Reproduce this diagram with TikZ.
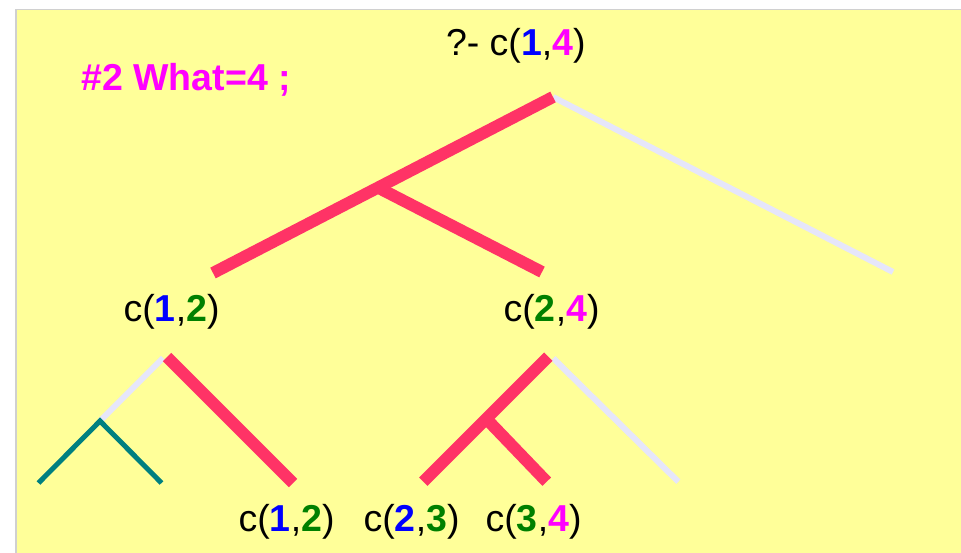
\documentclass[tikz,border=0pt]{standalone}
\usepackage{fontspec}
\setmainfont{Liberation Sans}
\definecolor{bgyellow}{HTML}{FFFF99}
\definecolor{hotred}{HTML}{FF3366}
\definecolor{lav}{HTML}{E6E6FA}
\definecolor{tealc}{HTML}{008080}
\definecolor{bluec}{HTML}{0000FF}
\definecolor{greenc}{HTML}{008000}
\definecolor{magc}{HTML}{FF00FF}
\definecolor{framec}{HTML}{D0D0D0}
\newcommand{\bl}[1]{\textcolor{bluec}{\bfseries #1}}
\newcommand{\gr}[1]{\textcolor{greenc}{\bfseries #1}}
\newcommand{\mg}[1]{\textcolor{magc}{\bfseries #1}}
\tikzset{
  lbl/.style={anchor=base west, inner sep=0pt, outer sep=0pt, font=\fontsize{37.5}{42}\selectfont, text=black},
  redline/.style={draw=hotred, line width=12pt},
  lavline/.style={draw=lav, line width=6pt},
  tealline/.style={draw=tealc, line width=5pt},
}
\begin{document}
\begin{tikzpicture}[x=1pt,y=-1pt]
\useasboundingbox (0,0) rectangle (961,553);
\fill[white] (0,0) rectangle (961,553);
\fill[bgyellow] (16,9.5) rectangle (961,553);
\draw[framec, line width=1.5pt] (16,553) -- (16,9.5) -- (961,9.5);

% labels
\node[lbl] (goal) at (446,56) {?- c(\bl{1},\mg{4})};
\node[lbl, text=magc, font=\fontsize{37.5}{42}\selectfont\bfseries] (ans) at (81.5,91) {\#2 What=4 ;};
\node[lbl] (c12a) at (123.7,322) {c(\bl{1},\gr{2})};
\node[lbl] (c24) at (503.7,322) {c(\gr{2},\mg{4})};
\node[lbl] (c12b) at (238.7,531) {c(\bl{1},\gr{2})};
\node[lbl] (c23) at (363.7,531) {c(\bl{2},\gr{3})};
\node[lbl] (c34) at (485.7,531) {c(\gr{3},\mg{4})};

% top tree coordinates
\coordinate (r) at (553,97);
\coordinate (rl) at (213,273);
\coordinate (rb) at (378,187.6);
\coordinate (rbe) at (542,272);
\coordinate (rr) at (893,272);

\draw[lavline] (r) -- (rr);
\draw[redline] (r) -- (rl);
\draw[redline] (rb) -- (rbe);

% left subtree
\coordinate (la) at (167,357);
\coordinate (lae) at (293,483);
\coordinate (lv) at (163,358);
\coordinate (lt) at (100,421);
\coordinate (ltl) at (38.5,483);
\coordinate (ltr) at (161.5,483);

\draw[lavline] (lv) -- (lt);
\draw[tealline] (ltl) -- (lt) -- (ltr);
\draw[redline] (la) -- (lae);

% right subtree
\coordinate (ra) at (548.3,356.7);
\coordinate (rae) at (423.3,481.7);
\coordinate (rab) at (486.7,419.2);
\coordinate (rabe) at (546.7,481.7);
\coordinate (rv) at (553.3,358.3);
\coordinate (rve) at (678.3,481.7);

\draw[lavline] (rv) -- (rve);
\draw[redline] (ra) -- (rae);
\draw[redline] (rab) -- (rabe);
\end{tikzpicture}
\end{document}
